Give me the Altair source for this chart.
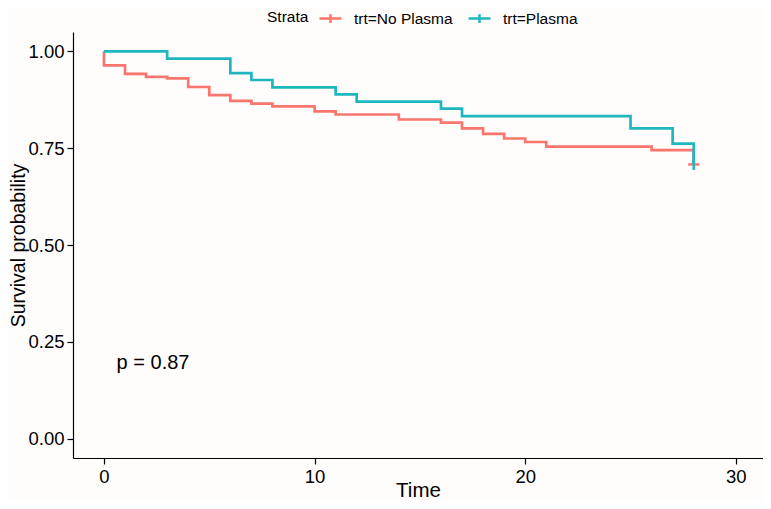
import altair as alt
import pandas as pd

strata = ["trt=No Plasma", "trt=Plasma"]
colors = ["#F8766D", "#1FB7BE"]

np_time = [0, 0, 1, 2, 3, 4, 5, 6, 7, 8, 10, 11, 14, 16, 17, 18, 19, 20, 21, 26, 28]
np_surv = [1.0, 0.964, 0.942, 0.934, 0.930, 0.908, 0.887, 0.872, 0.865, 0.858, 0.845,
           0.837, 0.824, 0.816, 0.801, 0.787, 0.775, 0.766, 0.754, 0.745, 0.708]
pl_time = [0, 3, 6, 7, 8, 11, 12, 16, 17, 25, 27, 28]
pl_surv = [1.0, 0.981, 0.944, 0.926, 0.907, 0.889, 0.870, 0.852, 0.833, 0.801, 0.762, 0.708]

censor_time = [28, 28]
censor_surv = [0.708, 0.708]

pval_text = "p = 0.87"
pval_x = [0.6]
pval_y = [0.181]

x_ticks = [0, 10, 20, 30]
y_ticks = [0.0, 0.25, 0.5, 0.75, 1.0]

FONT = "Liberation Sans"

curves = pd.DataFrame({
    "time": np_time + pl_time,
    "surv": np_surv + pl_surv,
    "strata": [strata[0]] * len(np_time) + [strata[1]] * len(pl_time),
    "order": list(range(len(np_time))) + list(range(len(pl_time))),
})
censor_np = pd.DataFrame({"time": censor_time[:1], "surv": censor_surv[:1]})
censor_pl = pd.DataFrame({"time": censor_time[1:], "surv": censor_surv[1:]})
pval = pd.DataFrame({"x": pval_x, "y": pval_y, "label": [pval_text]})

xscale = alt.Scale(domain=[-1.47, 31.29], nice=False, zero=False)
yscale = alt.Scale(domain=[-0.05, 1.05], nice=False, zero=False)

xaxis = alt.Axis(title="Time", values=x_ticks, format="d", labelPadding=3,
                 titleY=38.5, titleBaseline="alphabetic", titleFontSize=20.5)
yaxis = alt.Axis(title="Survival probability", values=y_ticks, format=".2f",
                 labelPadding=3, titleFontSize=19.5, titleX=-48.5, titleY=213,
                 titleAngle=270, titleAlign="center", titleBaseline="alphabetic")

lines = alt.Chart(curves).mark_line(interpolate="step-after", strokeWidth=2.7).encode(
    x=alt.X("time:Q", scale=xscale, axis=xaxis),
    y=alt.Y("surv:Q", scale=yscale, axis=yaxis),
    color=alt.Color(
        "strata:N",
        scale=alt.Scale(domain=strata, range=colors),
        legend=alt.Legend(
            title="Strata",
            orient="none",
            legendX=194,
            legendY=-26,
            direction="horizontal",
            titleOrient="left",
            titleFontSize=15.5,
            titleFontWeight="normal",
            titleColor="black",
            titleFont=FONT,
            titlePadding=9,
            titleBaseline="middle",
            labelFontSize=15.5,
            labelFont=FONT,
            labelColor="black",
            labelOffset=11,
            columnPadding=10,
            padding=0,
            symbolType="M-1,0H1M0,-0.4V0.4",
            symbolSize=484,
            symbolStrokeWidth=2.5,
        ),
    ),
    order="order:Q",
)

mark_np = alt.Chart(censor_np).mark_point(
    shape="M-1,0H1", filled=False, size=121, strokeWidth=2.5, opacity=1, color=colors[0]
).encode(x=alt.X("time:Q", scale=xscale), y=alt.Y("surv:Q", scale=yscale))

mark_pl = alt.Chart(censor_pl).mark_point(
    shape="M0,-1V1", filled=False, size=121, strokeWidth=2.5, opacity=1, color=colors[1]
).encode(x=alt.X("time:Q", scale=xscale), y=alt.Y("surv:Q", scale=yscale))

ptext = alt.Chart(pval).mark_text(align="left", baseline="alphabetic", fontSize=20,
                                  font=FONT, color="black").encode(
    x=alt.X("x:Q", scale=xscale),
    y=alt.Y("y:Q", scale=yscale),
    text="label:N",
)

chart = alt.layer(lines, mark_np, mark_pl, ptext).properties(
    width=690,
    height=426,
    autosize=alt.AutoSizeParams(type="none"),
    padding={"left": 65, "top": 24, "right": 0, "bottom": 43},
    background="#fffcfc",
).configure_view(stroke=None).configure_axis(
    grid=False,
    domainColor="black",
    domainWidth=1.2,
    tickColor="black",
    tickWidth=1.2,
    tickSize=6,
    labelFont=FONT,
    labelFontSize=18.5,
    labelColor="black",
    titleFont=FONT,
    titleFontSize=21,
    titleFontWeight="normal",
    titleColor="black",
)

chart.save("out.html", embed_options={"renderer": "svg", "actions": False})
